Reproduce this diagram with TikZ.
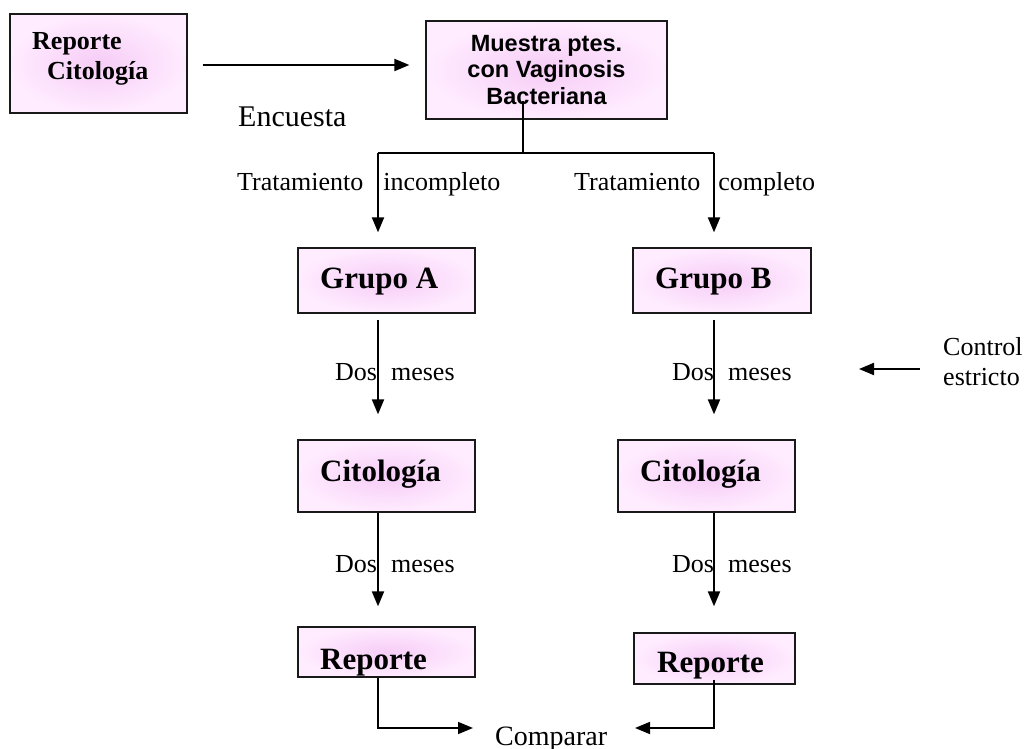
\documentclass[tikz,border=0pt]{standalone}
\usepackage{fontspec}
\setmainfont{Liberation Serif}
\newfontfamily\arialfont{Liberation Sans}
\usetikzlibrary{arrows.meta,calc}
\definecolor{pinkin}{RGB}{246,204,246}
\definecolor{pinkout}{RGB}{255,236,255}
\definecolor{edgecol}{RGB}{25,25,25}
\tikzset{
 box/.style={rectangle, draw=edgecol, line width=1.3pt, inner sep=0pt, shading=radial, inner color=pinkin, outer color=pinkout},
 btxt/.style={font=\bfseries\fontsize{31}{34}\selectfont, inner sep=0pt, anchor=base west},
 stxt/.style={font=\bfseries\fontsize{26}{30}\selectfont, inner sep=0pt, anchor=base west},
 lbl/.style={font=\fontsize{26}{30}\selectfont, inner sep=0pt, anchor=base west},
 arr/.style={line width=2pt, -{Triangle[length=15pt,width=12pt]}},
 conn/.style={line width=1.6pt},
}
\begin{document}
\begin{tikzpicture}[x=1pt,y=-1pt]
\useasboundingbox (0,0) rectangle (1026,749);
% boxes
\node[box, minimum width=177pt, minimum height=99pt] (rep0) at (98.5,63.5) {};
\node[stxt] (rep0a) at (32,50) {Reporte};
\node[stxt] (rep0b) at (47,80) {Citología};
\node[box, minimum width=241pt, minimum height=98pt, align=center,
      font=\arialfont\bfseries\fontsize{23.5}{26.5}\selectfont] (mue) at (546.5,70)
      {Muestra ptes.\\con Vaginosis\\Bacteriana};
\node[box, minimum width=177pt, minimum height=65pt] (grA) at (386.5,280.5) {};
\node[btxt] (grAt) at (320,288) {Grupo A};
\node[box, minimum width=178pt, minimum height=65pt] (grB) at (722,280.5) {};
\node[btxt] (grBt) at (655,288) {Grupo B};
\node[box, minimum width=177pt, minimum height=72pt] (ciA) at (386.5,476) {};
\node[btxt] (ciAt) at (320,481) {Citología};
\node[box, minimum width=177pt, minimum height=72pt] (ciB) at (706.5,476) {};
\node[btxt] (ciBt) at (640,481) {Citología};
\node[box, minimum width=177pt, minimum height=50pt] (reA) at (386.5,652) {};
\node[btxt] (reAt) at (320,669) {Reporte};
\node[box, minimum width=161pt, minimum height=51pt] (reB) at (714.5,658.5) {};
\node[btxt] (reBt) at (657,672) {Reporte};
% labels
\node[lbl, font=\fontsize{30}{34}\selectfont] (enc) at (238,127) {Encuesta};
\node[lbl] (tiA) at (237,190) {Tratamiento\hspace*{20pt}incompleto};
\node[lbl] (tiB) at (574,190) {Tratamiento\hspace*{18pt}completo};
\node[lbl] (dA1) at (335,380) {Dos\hspace*{14pt}meses};
\node[lbl] (dB1) at (672,380) {Dos\hspace*{14pt}meses};
\node[lbl] (dA2) at (335,572) {Dos\hspace*{14pt}meses};
\node[lbl] (dB2) at (672,572) {Dos\hspace*{14pt}meses};
\node[lbl] (ctrl1) at (943,355) {Control};
\node[lbl] (ctrl2) at (943,385) {estricto};
\node[lbl, font=\fontsize{28}{32}\selectfont] (cmp) at (495,745) {Comparar};
% coordinates
\coordinate (split) at (523,153);
\coordinate (colA) at (378,153);
\coordinate (colB) at (714,153);
\coordinate (ctrlA) at (920,369);
\coordinate (ctrlB) at (859,369);
\coordinate (cmpL) at (473,728);
\coordinate (cmpR) at (635,728);
% connectors
\draw[arr] ($(rep0.east)+(15,1.5)$) -- ($(rep0.east -| mue.west)+(-16,1.5)$);
\draw[conn] ($(mue.south -| split)+(0,-19)$) -- (split);
\draw[line width=2pt] (colA) -- (colB);
\draw[arr] (colA) -- ($(grA.north -| colA)+(0,-15)$);
\draw[arr] (colB) -- ($(grB.north -| colB)+(0,-15)$);
\draw[arr] ($(grA.south -| colA)+(0,6)$) -- ($(ciA.north -| colA)+(0,-25)$);
\draw[arr] ($(grB.south -| colB)+(0,6)$) -- ($(ciB.north -| colB)+(0,-25)$);
\draw[arr] (ciA.south -| colA) -- ($(reA.north -| colA)+(0,-20)$);
\draw[arr] (ciB.south -| colB) -- ($(reB.north -| colB)+(0,-26)$);
\draw[arr] (ctrlA) -- (ctrlB);
\draw[conn, -{Triangle[length=15pt,width=12pt]}] (reA.south -| colA) |- (cmpL);
\draw[conn, -{Triangle[length=15pt,width=12pt]}] ($(reB.south -| colB)+(0,-5)$) |- (cmpR);
\end{tikzpicture}
\end{document}
